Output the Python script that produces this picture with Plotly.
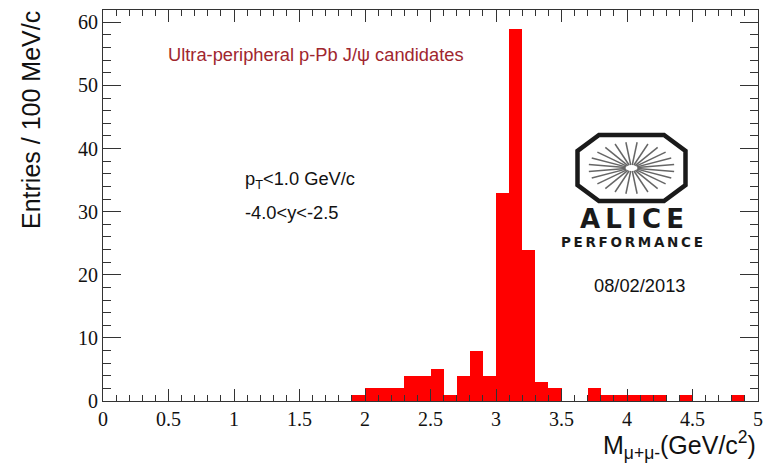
import math
import plotly.graph_objects as go

# ---- data ----
bin_low_edges = [1.9, 2.0, 2.1, 2.2, 2.3, 2.4, 2.5, 2.6, 2.7, 2.8, 2.9, 3.0, 3.1, 3.2,
                 3.3, 3.4, 3.5, 3.6, 3.7, 3.8, 3.9, 4.0, 4.1, 4.2, 4.3, 4.4, 4.5, 4.6,
                 4.7, 4.8, 4.9]
counts = [1, 2, 2, 2, 4, 4, 5, 1, 4, 8, 4, 33, 59, 24,
          3, 2, 0, 0, 2, 1, 1, 1, 1, 1, 0, 1, 0, 0,
          0, 1, 0]
bin_width = 0.1
x_tickvals = [0, 0.5, 1, 1.5, 2, 2.5, 3, 3.5, 4, 4.5, 5]
x_ticktext = ["0", "0.5", "1", "1.5", "2", "2.5", "3", "3.5", "4", "4.5", "5"]
y_tickvals = [0, 10, 20, 30, 40, 50, 60]

centers = [e + bin_width / 2 for e in bin_low_edges]

W, H = 773, 464
L, R, T, B = 103, 758, 10, 401  # plot area in pixels


def px(xp):
    return (xp - L) / (R - L)


def py(yp):
    return (B - yp) / (B - T)


fig = go.Figure()
fig.add_trace(go.Bar(x=centers, y=counts, width=bin_width,
                     marker=dict(color="#ff0000", line=dict(width=0)),
                     showlegend=False, hoverinfo="skip"))

tickfont = dict(family="Liberation Serif", size=20, color="#111111")
fig.update_layout(
    width=W, height=H,
    margin=dict(l=L, r=W - R, t=T, b=H - B, pad=0),
    paper_bgcolor="white", plot_bgcolor="white",
    bargap=0,
    xaxis=dict(range=[0, 5], tickvals=x_tickvals, ticktext=x_ticktext,
               ticks="inside", ticklen=12, tickwidth=1, tickcolor="#333",
               minor=dict(dtick=0.1, ticks="inside", ticklen=6, tickcolor="#333"),
               showline=True, linecolor="#333", linewidth=1, mirror="allticks",
               showgrid=False, zeroline=False, tickfont=tickfont),
    yaxis=dict(range=[0, 61.95], tickvals=y_tickvals,
               ticks="inside", ticklen=18, tickwidth=1, tickcolor="#333",
               minor=dict(dtick=2, ticks="inside", ticklen=8, tickcolor="#333"),
               showline=True, linecolor="#333", linewidth=1, mirror="allticks",
               showgrid=False, zeroline=False, tickfont=tickfont),
)

ann = []
# axis titles
ann.append(dict(x=px(31), y=py(120), xref="paper", yref="paper",
                text="Entries / 100 MeV/c", textangle=-90, showarrow=False,
                font=dict(family="Liberation Sans", size=25, color="#111"),
                xanchor="center", yanchor="middle"))
ann.append(dict(x=px(758), y=py(445), xref="paper", yref="paper",
                text="M<sub>μ+μ-</sub>(GeV/c<sup>2</sup>)", showarrow=False,
                font=dict(family="Liberation Sans", size=25, color="#111"),
                xanchor="right", yanchor="middle"))
# labels
ann.append(dict(x=px(166), y=py(55), xref="paper", yref="paper",
                text="Ultra-peripheral p-Pb J/ψ candidates", showarrow=False,
                font=dict(family="Liberation Sans", size=18.3, color="#a0262e"),
                xanchor="left", yanchor="middle"))
ann.append(dict(x=px(243), y=py(180), xref="paper", yref="paper",
                text="p<sub>T</sub><1.0 GeV/c", showarrow=False,
                font=dict(family="Liberation Sans", size=18.3, color="#111"),
                xanchor="left", yanchor="middle"))
ann.append(dict(x=px(243), y=py(212), xref="paper", yref="paper",
                text="-4.0<y<-2.5", showarrow=False,
                font=dict(family="Liberation Sans", size=18.3, color="#111"),
                xanchor="left", yanchor="middle"))
ann.append(dict(x=px(640), y=py(285), xref="paper", yref="paper",
                text="08/02/2013", showarrow=False,
                font=dict(family="Liberation Sans", size=18.3, color="#111"),
                xanchor="center", yanchor="middle"))
ann.append(dict(x=px(632), y=py(219), xref="paper", yref="paper",
                text="A\u2009L\u2009I\u2009C\u2009E", showarrow=False,
                font=dict(family="DejaVu Sans", size=26, color="#1a1a1a", weight="bold"),
                xanchor="center", yanchor="middle"))
ann.append(dict(x=px(631.5), y=py(242), xref="paper", yref="paper",
                text="P\u2009E\u2009R\u2009F\u2009O\u2009R\u2009M\u2009A\u2009N\u2009C\u2009E",
                showarrow=False,
                font=dict(family="DejaVu Sans", size=13.5, color="#1a1a1a", weight="bold"),
                xanchor="center", yanchor="middle"))
fig.update_layout(annotations=ann)

# ALICE logo: octagon + starburst (decoration)
oct_px = [(599, 135), (664, 135), (685.5, 151), (685.5, 185), (664, 201),
          (599, 201), (577.5, 185), (577.5, 151)]
path = "M " + " L ".join(f"{px(a):.5f},{py(b):.5f}" for a, b in oct_px) + " Z"
shapes = [dict(type="path", path=path, xref="paper", yref="paper",
               line=dict(color="#1a1a1a", width=4.5), fillcolor="rgba(0,0,0,0)")]
cx, cy = 631.5, 168
for k in range(24):
    a = math.radians(7.5 + 15 * k)
    x0, y0 = cx + 6 * math.cos(a), cy + 3 * math.sin(a)
    x1, y1 = cx + 43 * math.cos(a), cy + 26 * math.sin(a)
    shapes.append(dict(type="line", xref="paper", yref="paper",
                       x0=px(x0), y0=py(y0), x1=px(x1), y1=py(y1),
                       line=dict(color="#666", width=1.5)))
fig.update_layout(shapes=shapes)

fig.write_html("out.html")
